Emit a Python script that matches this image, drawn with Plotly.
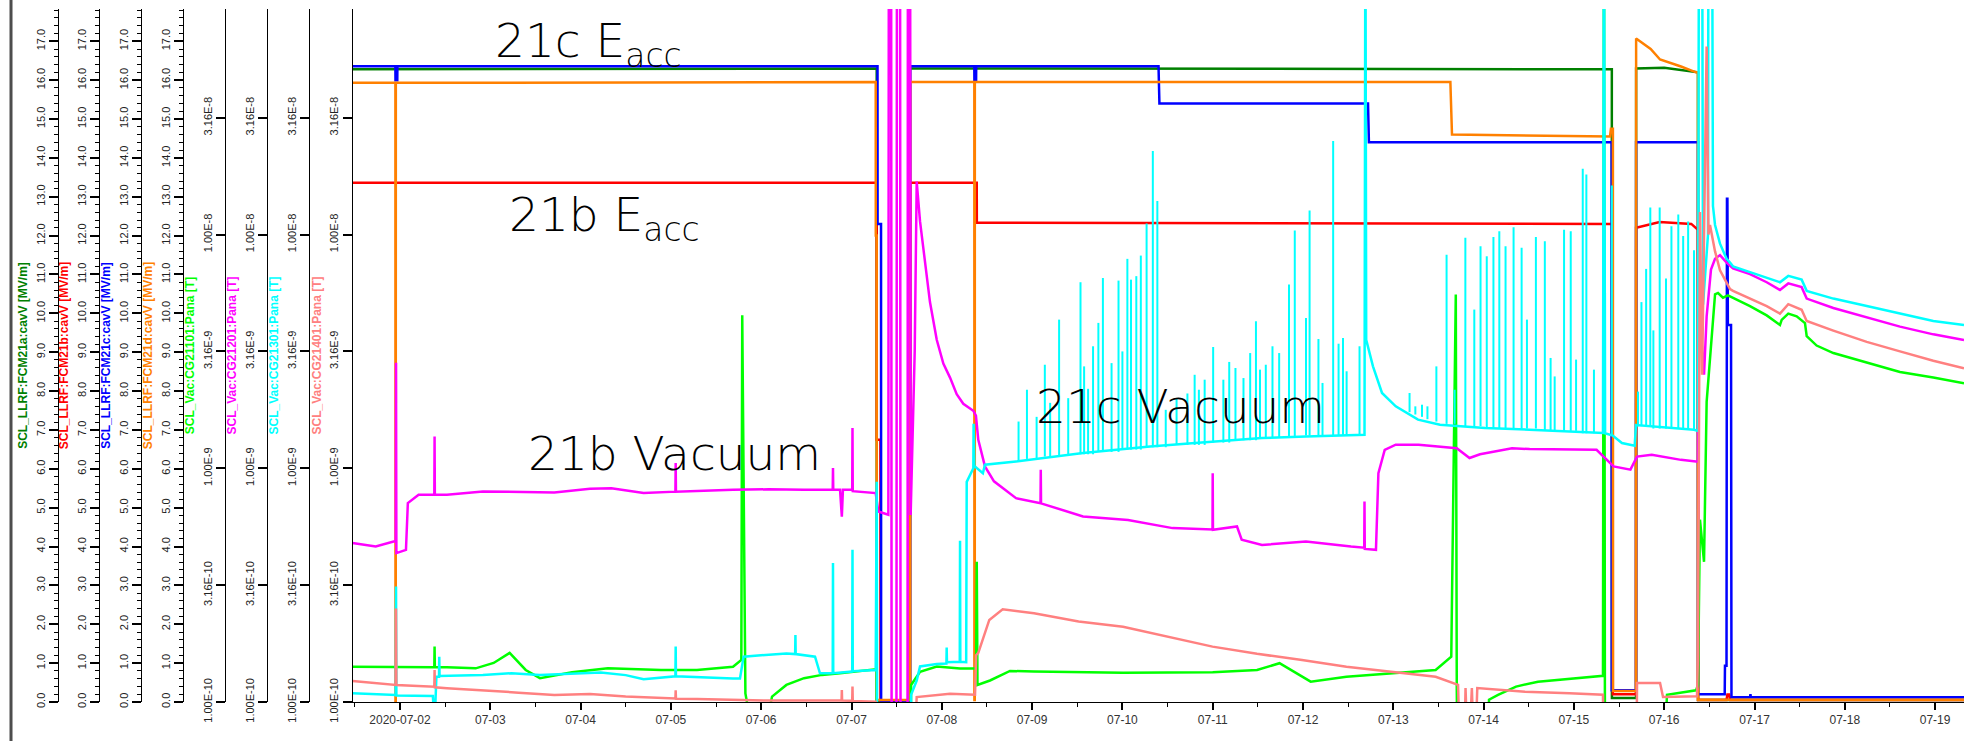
import numpy as np
import pandas as pd
import plotly.graph_objects as go

# ---------------- data (time = fractional day of July 2020) ----------------
# Cavity fields [MV/m]
fcm21a_day = [1.474, 7.279, 7.280, 7.648, 7.649, 15.420, 15.421, 15.688, 15.689, 16.000, 16.374, 16.375, 19.320]
fcm21a_val = [16.28, 16.30, 0.00, 0.00, 16.30, 16.28, 0.10, 0.10, 16.30, 16.32, 16.20, 0.05, 0.05]

fcm21b_day = [1.474, 7.279, 7.280, 7.320, 7.321, 7.648, 7.649, 8.387, 8.388, 15.430, 15.431,
              15.688, 15.689, 15.950, 16.300, 16.374, 16.375, 16.690, 16.700, 16.720, 16.730, 19.320]
fcm21b_val = [13.36, 13.36, 6.75, 6.75, 0.00, 0.00, 13.36, 13.36, 12.33, 12.30, 0.20,
              0.20, 12.20, 12.35, 12.30, 12.15, 0.05, 0.05, 0.19, 0.19, 0.05, 0.05]

fcm21c_day = [1.474, 1.949, 1.950, 1.970, 1.971, 7.288, 7.289, 7.327, 7.328, 7.648, 7.649,
              8.360, 8.361, 8.380, 8.381, 10.400, 10.410, 12.720, 12.730, 15.418, 15.419,
              15.688, 15.689, 16.374, 16.375, 16.670, 16.673, 16.690, 16.695, 16.700, 16.705,
              16.740, 16.745, 16.950, 16.955, 16.960, 19.320]
fcm21c_val = [16.36, 16.36, 16.00, 16.00, 16.36, 16.36, 12.30, 12.30, 0.00, 0.00, 16.36,
              16.36, 16.00, 16.00, 16.36, 16.36, 15.40, 15.40, 14.40, 14.40, 0.30,
              0.30, 14.40, 14.40, 0.20, 0.20, 0.93, 0.93, 12.95, 12.95, 9.70,
              9.70, 0.12, 0.12, 0.20, 0.12, 0.12]

fcm21d_day = [1.474, 1.949, 1.950, 1.953, 1.954, 7.268, 7.269, 7.279, 7.280, 7.648,
              7.649, 8.360, 8.361, 8.365, 8.366, 13.632, 13.650, 15.400, 15.410, 15.432,
              15.433, 15.688, 15.689, 15.850, 15.954, 16.186, 16.352, 16.374, 16.375, 19.320]
fcm21d_val = [15.93, 15.93, 0.00, 0.00, 15.93, 15.95, 12.00, 12.00, 0.05, 0.05,
              15.95, 15.95, 0.05, 0.05, 15.95, 15.95, 14.60, 14.55, 14.75, 14.75,
              0.28, 0.28, 17.07, 16.80, 16.53, 16.35, 16.20, 16.20, 0.06, 0.06]

# Vacuum gauges, log10 of pressure [T]
cg21101_day = [1.474, 1.967, 2.380, 2.383, 2.386, 2.520, 2.838, 3.037, 3.214, 3.392,
               3.550, 3.905, 4.302, 4.890, 5.289, 5.688, 5.780, 5.790, 5.825, 5.865,
               6.082, 6.120, 6.279, 6.474, 6.673, 6.873, 7.268, 7.279, 7.285, 7.650,
               7.660, 7.759, 7.944, 8.202, 8.380, 8.387, 8.395, 8.534, 8.755, 9.021,
               10.007, 11.000, 11.491, 11.740, 12.085, 12.481, 12.974, 13.469, 13.642, 13.692,
               13.703, 13.717, 14.016, 14.060, 14.160, 14.359, 14.602, 15.200, 15.322, 15.333,
               15.345, 15.954, 16.031, 16.352, 16.374, 16.396, 16.441, 16.470, 16.518, 16.563,
               16.596, 16.651, 16.706, 16.762, 16.950, 17.135, 17.282, 17.301, 17.374, 17.467,
               17.559, 17.578, 17.688, 17.873, 18.243, 18.611, 18.980, 19.320]
cg21101_log = [-9.849, -9.851, -9.851, -9.763, -9.851, -9.851, -9.856, -9.833, -9.790, -9.863,
               -9.898, -9.873, -9.856, -9.863, -9.863, -9.849, -9.820, -8.345, -9.963, -10.050,
               -10.050, -9.977, -9.927, -9.898, -9.884, -9.877, -9.860, -9.867, -10.600, -10.600,
               -9.927, -9.871, -9.848, -9.857, -9.857, -9.400, -9.927, -9.908, -9.867, -9.870,
               -9.875, -9.873, -9.863, -9.834, -9.913, -9.892, -9.877, -9.863, -9.806, -8.257,
               -9.950, -10.600, -10.600, -9.990, -9.970, -9.934, -9.913, -9.892, -9.888, -6.500,
               -10.600, -10.600, -9.969, -9.950, -9.927, -9.220, -9.400, -8.716, -8.470, -8.256,
               -8.250, -8.270, -8.260, -8.270, -8.306, -8.346, -8.387, -8.365, -8.338, -8.350,
               -8.379, -8.435, -8.475, -8.507, -8.548, -8.588, -8.612, -8.636]

cg21201_day = [1.474, 1.731, 1.929, 1.952, 1.956, 1.960, 2.066, 2.087, 2.206, 2.380,
               2.383, 2.386, 2.520, 2.918, 3.709, 4.104, 4.341, 4.698, 5.050, 5.053,
               5.056, 5.688, 6.082, 6.474, 6.792, 6.795, 6.798, 6.873, 6.893, 6.905,
               7.008, 7.011, 7.014, 7.268, 7.297, 7.408, 7.415, 7.438, 7.445, 7.497,
               7.504, 7.537, 7.544, 7.620, 7.625, 7.648, 7.655, 7.700, 7.722, 7.759,
               7.814, 7.869, 7.944, 8.017, 8.091, 8.165, 8.238, 8.349, 8.378, 8.404,
               8.478, 8.578, 8.822, 9.072, 9.093, 9.096, 9.099, 9.564, 10.062, 10.555,
               10.998, 11.000, 11.003, 11.269, 11.321, 11.546, 12.033, 12.532, 12.678, 12.681,
               12.684, 12.808, 12.835, 12.905, 13.027, 13.280, 13.703, 13.844, 13.960, 14.315,
               14.509, 15.251, 15.439, 15.626, 15.699, 15.862, 16.186, 16.352, 16.374, 16.385,
               16.441, 16.470, 16.518, 16.563, 16.618, 16.691, 16.762, 16.950, 17.135, 17.282,
               17.374, 17.522, 17.578, 17.873, 18.243, 18.611, 18.980, 19.320]
cg21201_log = [-9.320, -9.335, -9.313, -9.313, -8.548, -9.363, -9.349, -9.149, -9.113, -9.113,
               -8.864, -9.113, -9.113, -9.099, -9.104, -9.088, -9.085, -9.106, -9.100, -8.978,
               -9.100, -9.092, -9.090, -9.092, -9.092, -8.999, -9.092, -9.092, -9.207, -9.092,
               -9.092, -8.828, -9.098, -9.106, -9.185, -9.199, -6.000, -6.000, -10.600, -10.600,
               -6.000, -6.000, -10.600, -10.600, -6.000, -6.000, -9.200, -8.500, -7.773, -7.944,
               -8.127, -8.289, -8.450, -8.552, -8.612, -8.683, -8.724, -8.754, -8.775, -8.878,
               -8.992, -9.056, -9.128, -9.149, -9.150, -9.006, -9.150, -9.206, -9.221, -9.256,
               -9.262, -9.021, -9.263, -9.249, -9.306, -9.328, -9.313, -9.335, -9.340, -9.142,
               -9.345, -9.349, -9.021, -8.921, -8.899, -8.899, -8.914, -8.956, -8.940, -8.914,
               -8.918, -8.921, -8.992, -9.006, -8.950, -8.942, -8.964, -8.971, -8.971, -8.300,
               -8.600, -8.350, -8.150, -8.104, -8.088, -8.120, -8.145, -8.169, -8.204, -8.237,
               -8.209, -8.225, -8.274, -8.314, -8.354, -8.394, -8.427, -8.451]

cg21301_day = [1.474, 1.952, 1.956, 1.960, 2.364, 2.383, 2.403, 2.432, 2.435, 2.438,
               2.918, 3.234, 3.550, 4.223, 4.499, 4.698, 5.050, 5.053, 5.056, 5.688,
               5.765, 5.805, 6.082, 6.279, 6.376, 6.379, 6.382, 6.596, 6.651, 6.792,
               6.795, 6.798, 7.008, 7.011, 7.014, 7.268, 7.279, 7.285, 7.648, 7.660,
               7.722, 7.759, 7.944, 8.051, 8.054, 8.057, 8.199, 8.202, 8.205, 8.270,
               8.276, 8.349, 8.352, 8.360, 8.455, 8.478, 8.822, 9.564, 10.306, 10.804,
               11.546, 12.033, 12.681, 12.691, 12.700, 12.775, 12.875, 13.027, 13.274, 13.517,
               14.016, 14.509, 15.251, 15.322, 15.333, 15.345, 15.430, 15.532, 15.673, 15.688,
               16.330, 16.374, 16.385, 16.420, 16.430, 16.485, 16.490, 16.530, 16.540, 16.563,
               16.618, 16.691, 16.729, 16.762, 16.950, 17.135, 17.282, 17.374, 17.522, 17.578,
               17.873, 18.243, 18.611, 18.980, 19.320]
cg21301_log = [-9.963, -9.970, -9.506, -9.972, -9.974, -10.100, -9.892, -9.892, -9.806, -9.889,
               -9.884, -9.877, -9.885, -9.874, -9.885, -9.903, -9.890, -9.763, -9.890, -9.899,
               -9.899, -9.806, -9.799, -9.792, -9.795, -9.713, -9.795, -9.806, -9.877, -9.877,
               -9.405, -9.877, -9.870, -9.349, -9.868, -9.863, -9.058, -10.600, -10.600, -9.969,
               -9.908, -9.848, -9.837, -9.835, -9.767, -9.830, -9.828, -9.310, -9.828, -9.830,
               -9.058, -9.000, -8.810, -8.990, -9.021, -8.985, -8.971, -8.935, -8.907, -8.892,
               -8.871, -8.864, -8.857, -6.500, -8.450, -8.564, -8.678, -8.735, -8.792, -8.814,
               -8.828, -8.835, -8.849, -8.849, -6.500, -8.850, -8.860, -8.892, -8.904, -8.815,
               -8.835, -8.840, -6.500, -6.500, -8.300, -8.000, -6.500, -6.500, -7.878, -7.959,
               -8.039, -8.104, -8.120, -8.136, -8.161, -8.185, -8.204, -8.177, -8.193, -8.241,
               -8.274, -8.306, -8.338, -8.370, -8.387]

# CG21301 pressure bursts: time, local baseline and peak (log10)
cg21301_spike_day = [8.850, 8.943, 9.050, 9.141, 9.200, 9.299, 9.400, 9.536, 9.576, 9.620,
                     9.675, 9.734, 9.784, 9.880, 9.957, 10.000, 10.055, 10.095, 10.154, 10.204,
                     10.268, 10.337, 10.387, 10.480, 10.600, 10.720, 10.800, 10.847, 10.911, 11.005,
                     11.118, 11.183, 11.252, 11.341, 11.415, 11.479, 11.524, 11.588, 11.662, 11.736,
                     11.845, 11.909, 12.033, 12.073, 12.171, 12.216, 12.334, 12.394, 12.443, 12.483,
                     12.626, 13.180, 13.244, 13.318, 13.378, 13.477, 13.590, 13.679, 13.798, 13.897,
                     13.966, 14.035, 14.109, 14.174, 14.243, 14.332, 14.421, 14.480, 14.579, 14.678,
                     14.742, 14.787, 14.891, 14.965, 15.024, 15.098, 15.138, 15.222, 15.345, 15.420,
                     15.710, 15.748, 15.800, 15.846, 15.880, 15.950, 16.020, 16.080, 16.156, 16.210,
                     16.265, 16.330]
cg21301_spike_top = [-8.800, -8.664, -8.780, -8.557, -8.720, -8.364, -8.700, -8.204, -8.564, -8.660,
                     -8.478, -8.378, -8.186, -8.550, -8.197, -8.500, -8.104, -8.193, -8.178, -8.090,
                     -7.953, -7.643, -7.857, -8.750, -8.700, -8.680, -8.600, -8.664, -8.621, -8.481,
                     -8.621, -8.545, -8.571, -8.614, -8.507, -8.371, -8.578, -8.557, -8.478, -8.507,
                     -8.214, -7.983, -8.357, -7.897, -8.447, -8.635, -7.600, -8.467, -8.443, -8.585,
                     -8.478, -8.678, -8.735, -8.728, -8.735, -8.564, -8.086, -8.664, -8.014, -8.321,
                     -8.050, -8.093, -8.010, -7.986, -8.050, -7.969, -8.057, -8.364, -8.010, -8.029,
                     -8.528, -8.607, -7.979, -7.986, -8.535, -7.719, -7.743, -8.578, -8.250, -7.790,
                     -8.672, -8.289, -8.147, -7.884, -8.410, -7.884, -8.188, -7.965, -7.914, -8.006,
                     -7.944, -8.067]
cg21301_spike_base = [-8.97, -8.96, -8.96, -8.95, -8.95, -8.95, -8.94, -8.94, -8.94, -8.94,
                      -8.94, -8.93, -8.93, -8.93, -8.93, -8.92, -8.92, -8.92, -8.92, -8.92,
                      -8.91, -8.91, -8.91, -8.91, -8.90, -8.90, -8.90, -8.90, -8.90, -8.89,
                      -8.89, -8.89, -8.88, -8.88, -8.88, -8.88, -8.87, -8.87, -8.87, -8.87,
                      -8.87, -8.87, -8.86, -8.86, -8.86, -8.86, -8.86, -8.86, -8.86, -8.86,
                      -8.86, -8.76, -8.77, -8.78, -8.79, -8.80, -8.81, -8.81, -8.82, -8.82,
                      -8.82, -8.83, -8.83, -8.83, -8.83, -8.83, -8.83, -8.83, -8.83, -8.84,
                      -8.84, -8.84, -8.84, -8.84, -8.84, -8.85, -8.85, -8.85, -8.85, -8.86,
                      -8.82, -8.82, -8.82, -8.82, -8.83, -8.83, -8.83, -8.83, -8.83, -8.83,
                      -8.83, -8.84]

cg21401_day = [1.474, 1.952, 1.956, 1.960, 2.380, 2.383, 2.386, 2.520, 2.918, 3.313,
               3.709, 4.104, 4.499, 4.890, 5.050, 5.053, 5.056, 5.289, 5.688, 6.082,
               6.890, 6.893, 6.896, 7.008, 7.011, 7.014, 7.268, 7.285, 7.648, 7.722,
               8.091, 8.368, 8.380, 8.404, 8.526, 8.674, 9.021, 9.515, 10.007, 10.505,
               10.998, 11.491, 11.989, 12.481, 12.974, 13.469, 13.717, 13.766, 13.800, 13.830,
               13.870, 13.900, 13.930, 13.960, 14.459, 14.952, 15.322, 15.335, 15.688, 15.699,
               15.954, 15.987, 16.363, 16.374, 16.396, 16.420, 16.470, 16.490, 16.507, 16.563,
               16.618, 16.673, 16.729, 16.762, 16.950, 17.135, 17.282, 17.374, 17.522, 17.578,
               17.873, 18.243, 18.611, 18.980, 19.320]
cg21401_log = [-9.910, -9.927, -9.600, -9.927, -9.935, -9.863, -9.937, -9.941, -9.949, -9.960,
               -9.970, -9.966, -9.977, -9.984, -9.985, -9.950, -9.986, -9.987, -9.991, -9.994,
               -9.994, -9.949, -9.994, -9.995, -9.934, -9.996, -9.999, -10.600, -10.600, -9.979,
               -9.965, -9.969, -9.800, -9.790, -9.649, -9.603, -9.620, -9.656, -9.678, -9.720,
               -9.763, -9.794, -9.820, -9.849, -9.870, -9.892, -9.927, -10.600, -9.940, -10.300,
               -9.940, -10.300, -9.940, -9.941, -9.956, -9.963, -9.969, -10.600, -10.600, -9.919,
               -9.919, -9.979, -9.975, -9.800, -7.904, -8.600, -7.195, -8.000, -7.959, -8.072,
               -8.153, -8.193, -8.233, -8.241, -8.274, -8.306, -8.338, -8.298, -8.322, -8.370,
               -8.411, -8.459, -8.500, -8.540, -8.572]

# axis / label definitions
pv_names = ["SCL_LLRF:FCM21a:cavV [MV/m]", "SCL_LLRF:FCM21b:cavV [MV/m]",
            "SCL_LLRF:FCM21c:cavV [MV/m]", "SCL_LLRF:FCM21d:cavV [MV/m]",
            "SCL_Vac:CG21101:Pana [T]", "SCL_Vac:CG21201:Pana [T]",
            "SCL_Vac:CG21301:Pana [T]", "SCL_Vac:CG21401:Pana [T]"]
pv_colors = ["#008000", "#FF0000", "#0000FF", "#FF8000",
             "#00FF00", "#FF00FF", "#00FFFF", "#FF8080"]
log_tick_vals = [1e-10, 3.16e-10, 1e-9, 3.16e-9, 1e-8, 3.16e-8]
log_tick_text = ["1.00E-10", "3.16E-10", "1.00E-9", "3.16E-9", "1.00E-8", "3.16E-8"]
date_tick_days = list(range(2, 20))
date_tick_text = ["2020-07-02"] + ["07-%02d" % d for d in range(3, 20)]
lin_range = [0, 17.83]
log_range = [-10, -7.035]
x_range_days = [1.474, 19.32]

# ---------------- checks ----------------
for a, b in [(fcm21a_day, fcm21a_val), (fcm21b_day, fcm21b_val), (fcm21c_day, fcm21c_val),
             (fcm21d_day, fcm21d_val), (cg21101_day, cg21101_log), (cg21201_day, cg21201_log),
             (cg21301_day, cg21301_log), (cg21401_day, cg21401_log),
             (cg21301_spike_day, cg21301_spike_top), (cg21301_spike_day, cg21301_spike_base)]:
    assert len(a) == len(b), (len(a), len(b))

t0 = pd.Timestamp("2020-07-01")


def when(days):
    return list(t0 + pd.to_timedelta(np.asarray(days, dtype=float) - 1.0, unit="D"))


def pres(logs):
    return list(10.0 ** np.asarray(logs, dtype=float))


W, H = 1964, 741
M_T, M_B = 9, 39
PH = H - M_T - M_B
axis_px = [58, 99, 141, 183, 225, 267, 309, 352.5]
x_left = axis_px[-1] / W

fig = go.Figure()
series = [
    (fcm21a_day, fcm21a_val, False),
    (fcm21b_day, fcm21b_val, False),
    (fcm21c_day, fcm21c_val, False),
    (fcm21d_day, fcm21d_val, False),
    (cg21101_day, cg21101_log, True),
    (cg21201_day, cg21201_log, True),
    (cg21301_day, cg21301_log, True),
    (cg21401_day, cg21401_log, True),
]
for i, (d, v, is_log) in enumerate(series):
    yref = "y" if i == 0 else "y%d" % (i + 1)
    fig.add_trace(go.Scatter(x=when(d), y=pres(v) if is_log else v, mode="lines",
                             line=dict(color=pv_colors[i], width=2.5), yaxis=yref,
                             name=pv_names[i], hoverinfo="skip"))
    if i == 6:
        sx, sy = [], []
        for tt, b, p in zip(when(cg21301_spike_day), cg21301_spike_base, cg21301_spike_top):
            sx += [tt, tt, None]
            sy += [10.0 ** b, 10.0 ** p, None]
        fig.add_trace(go.Scatter(x=sx, y=sy, mode="lines", yaxis=yref,
                                 line=dict(color=pv_colors[i], width=2),
                                 hoverinfo="skip", showlegend=False))

tick_font = dict(family="Liberation Sans Narrow, Arial Narrow, Liberation Sans, Arial", size=11, color="#222222")
title_family = "Liberation Sans Narrow, Arial Narrow, Liberation Sans, Arial"

layout = dict(
    width=W, height=H,
    margin=dict(l=0, r=0, t=M_T, b=M_B),
    paper_bgcolor="white", plot_bgcolor="white",
    showlegend=False,
    xaxis=dict(type="date", domain=[x_left, 1], range=when(x_range_days),
               tickmode="array", tickvals=when(date_tick_days), ticktext=date_tick_text,
               ticks="outside", ticklen=7, tickwidth=2, tickcolor="black",
               minor=dict(dtick=43200000, tick0="2020-07-01", ticks="outside", ticklen=4,
                          tickwidth=1, tickcolor="black"),
               showline=True, linecolor="black", linewidth=1, showgrid=False, zeroline=False,
               tickfont=dict(family=tick_font["family"], size=12, color="#333333"),
               automargin=False),
)
for i in range(8):
    key = "yaxis" if i == 0 else "yaxis%d" % (i + 1)
    ax = dict(showline=True, linecolor="black", linewidth=1, showgrid=False, zeroline=False,
              ticks="outside", ticklen=9, tickwidth=2, tickcolor="black",
              tickangle=-90, tickfont=tick_font, automargin=False,
              title=dict(text="<b>%s</b>" % pv_names[i], standoff=3,
                         font=dict(family=title_family, size=12, color=pv_colors[i])),
              side="left")
    if i < 4:
        ax.update(range=lin_range, tickmode="linear", tick0=0, dtick=1, tickformat=".1f",
                  minor=dict(dtick=0.2, ticks="outside", ticklen=4, tickwidth=1, tickcolor="black"))
    else:
        ax.update(type="log", range=log_range, tickmode="array", tickvals=log_tick_vals,
                  ticktext=log_tick_text)
    if i == 7:
        ax.update(anchor="x", overlaying="y")
    else:
        ax.update(anchor="free", position=axis_px[i] / W)
        if i > 0:
            ax.update(overlaying="y")
    layout[key] = ax
fig.update_layout(**layout)


def px_x(px):
    return px / W


def px_y(py):
    return (H - M_B - py) / PH


big = dict(family="DejaVu Sans", size=47, color="black", weight=200)
labels = [("21c E<sub>acc</sub>", 493, 44), ("21b E<sub>acc</sub>", 507, 218),
          ("21b Vacuum", 526, 453), ("21c Vacuum", 1034, 406)]
for txt, lx, ly in labels:
    fig.add_annotation(text=txt, x=px_x(lx), y=px_y(ly), xref="paper", yref="paper",
                       xanchor="left", yanchor="middle", showarrow=False, font=big)

fig.add_shape(type="line", xref="paper", yref="paper", x0=px_x(11), x1=px_x(11),
              y0=px_y(H), y1=px_y(0), line=dict(color="#4d4d4d", width=3))

fig.write_html("out.html", config={"displayModeBar": False},
               post_script="document.body.style.margin='0';")
